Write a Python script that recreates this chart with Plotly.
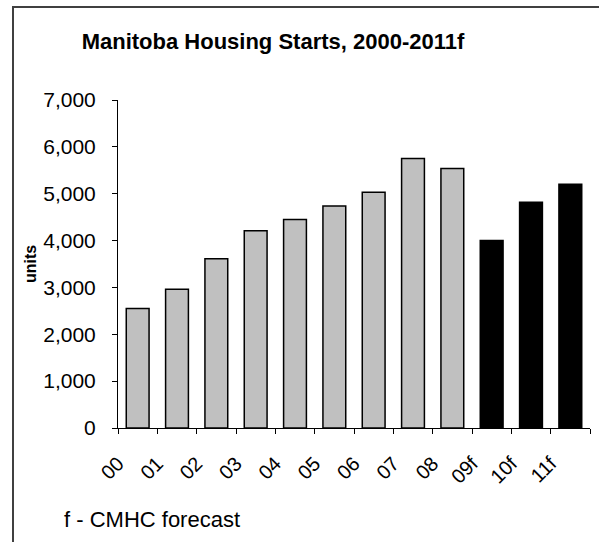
import numpy as np
import plotly.graph_objects as go

# Manitoba housing starts (units)
years = ["00", "01", "02", "03", "04", "05", "06", "07", "08", "09f", "10f", "11f"]
starts = [2550, 2960, 3610, 4210, 4450, 4740, 5030, 5750, 5540, 4000, 4820, 5200]
is_forecast = [False] * 9 + [True] * 3

W, H = 599, 542
L, R, T, B = 118, 9, 100, 114
pw, ph = W - L - R, H - T - B


def px_x(px):
    return (px - L) / pw


def px_y(py):
    return (H - B - py) / ph


pos = np.arange(len(years)) + 0.5
hist = [i for i, f in enumerate(is_forecast) if not f]
fcst = [i for i, f in enumerate(is_forecast) if f]

fig = go.Figure()
fig.add_trace(
    go.Bar(
        x=pos[hist],
        y=[starts[i] for i in hist],
        width=0.58,
        marker={"color": "#c0c0c0", "line": {"color": "#000000", "width": 1.5}},
        name="Actual",
    )
)
fig.add_trace(
    go.Bar(
        x=pos[fcst],
        y=[starts[i] for i in fcst],
        width=0.58,
        marker={"color": "#000000", "line": {"color": "#000000", "width": 1.5}},
        name="CMHC forecast",
    )
)

font = "Arial, Liberation Sans, sans-serif"
fig.update_layout(
    width=W,
    height=H,
    margin={"l": L, "r": R, "t": T, "b": B},
    paper_bgcolor="white",
    plot_bgcolor="white",
    showlegend=False,
    font={"family": font, "color": "#000000", "size": 20},
    title={
        "text": "<b>Manitoba Housing Starts, 2000-2011f</b>",
        "x": px_x(273),
        "xref": "paper",
        "xanchor": "center",
        "y": 1 - 41 / H,
        "yanchor": "middle",
        "font": {"size": 22, "family": font, "color": "#000000"},
    },
    xaxis={
        "range": [0, len(years)],
        "tickvals": list(range(len(years) + 1)),
        "ticktext": years + [""],
        "tickangle": -45,
        "ticks": "outside",
        "ticklen": 5,
        "tickcolor": "#000000",
        "ticklabelstandoff": 10,
        "showline": True,
        "linecolor": "#000000",
        "linewidth": 1,
        "showgrid": False,
        "zeroline": False,
        "tickfont": {"size": 20},
    },
    yaxis={
        "range": [0, 7000],
        "dtick": 1000,
        "tickformat": ",",
        "ticks": "outside",
        "ticklen": 5,
        "tickcolor": "#000000",
        "ticklabelstandoff": 12,
        "showline": True,
        "linecolor": "#000000",
        "linewidth": 1,
        "showgrid": False,
        "zeroline": False,
        "tickfont": {"size": 21},
    },
    shapes=[
        {
            "type": "rect",
            "xref": "paper",
            "yref": "paper",
            "x0": px_x(13),
            "x1": px_x(610),
            "y0": px_y(555),
            "y1": px_y(7),
            "line": {"color": "#404040", "width": 2},
            "fillcolor": "rgba(0,0,0,0)",
            "layer": "below",
        }
    ],
    annotations=[
        {
            "text": "<b>units</b>",
            "xref": "paper",
            "yref": "paper",
            "x": px_x(30),
            "y": px_y(264),
            "xanchor": "center",
            "yanchor": "middle",
            "textangle": -90,
            "showarrow": False,
            "font": {"size": 16},
        },
        {
            "text": "f - CMHC forecast",
            "xref": "paper",
            "yref": "paper",
            "x": px_x(62),
            "y": px_y(519),
            "xanchor": "left",
            "yanchor": "middle",
            "showarrow": False,
            "font": {"size": 22},
        },
    ],
)

# the page's default body margin would shift the whole chart by 8px
fig.write_html(
    "out.html",
    config={"displayModeBar": False},
    post_script="document.body.style.margin = '0';",
)
